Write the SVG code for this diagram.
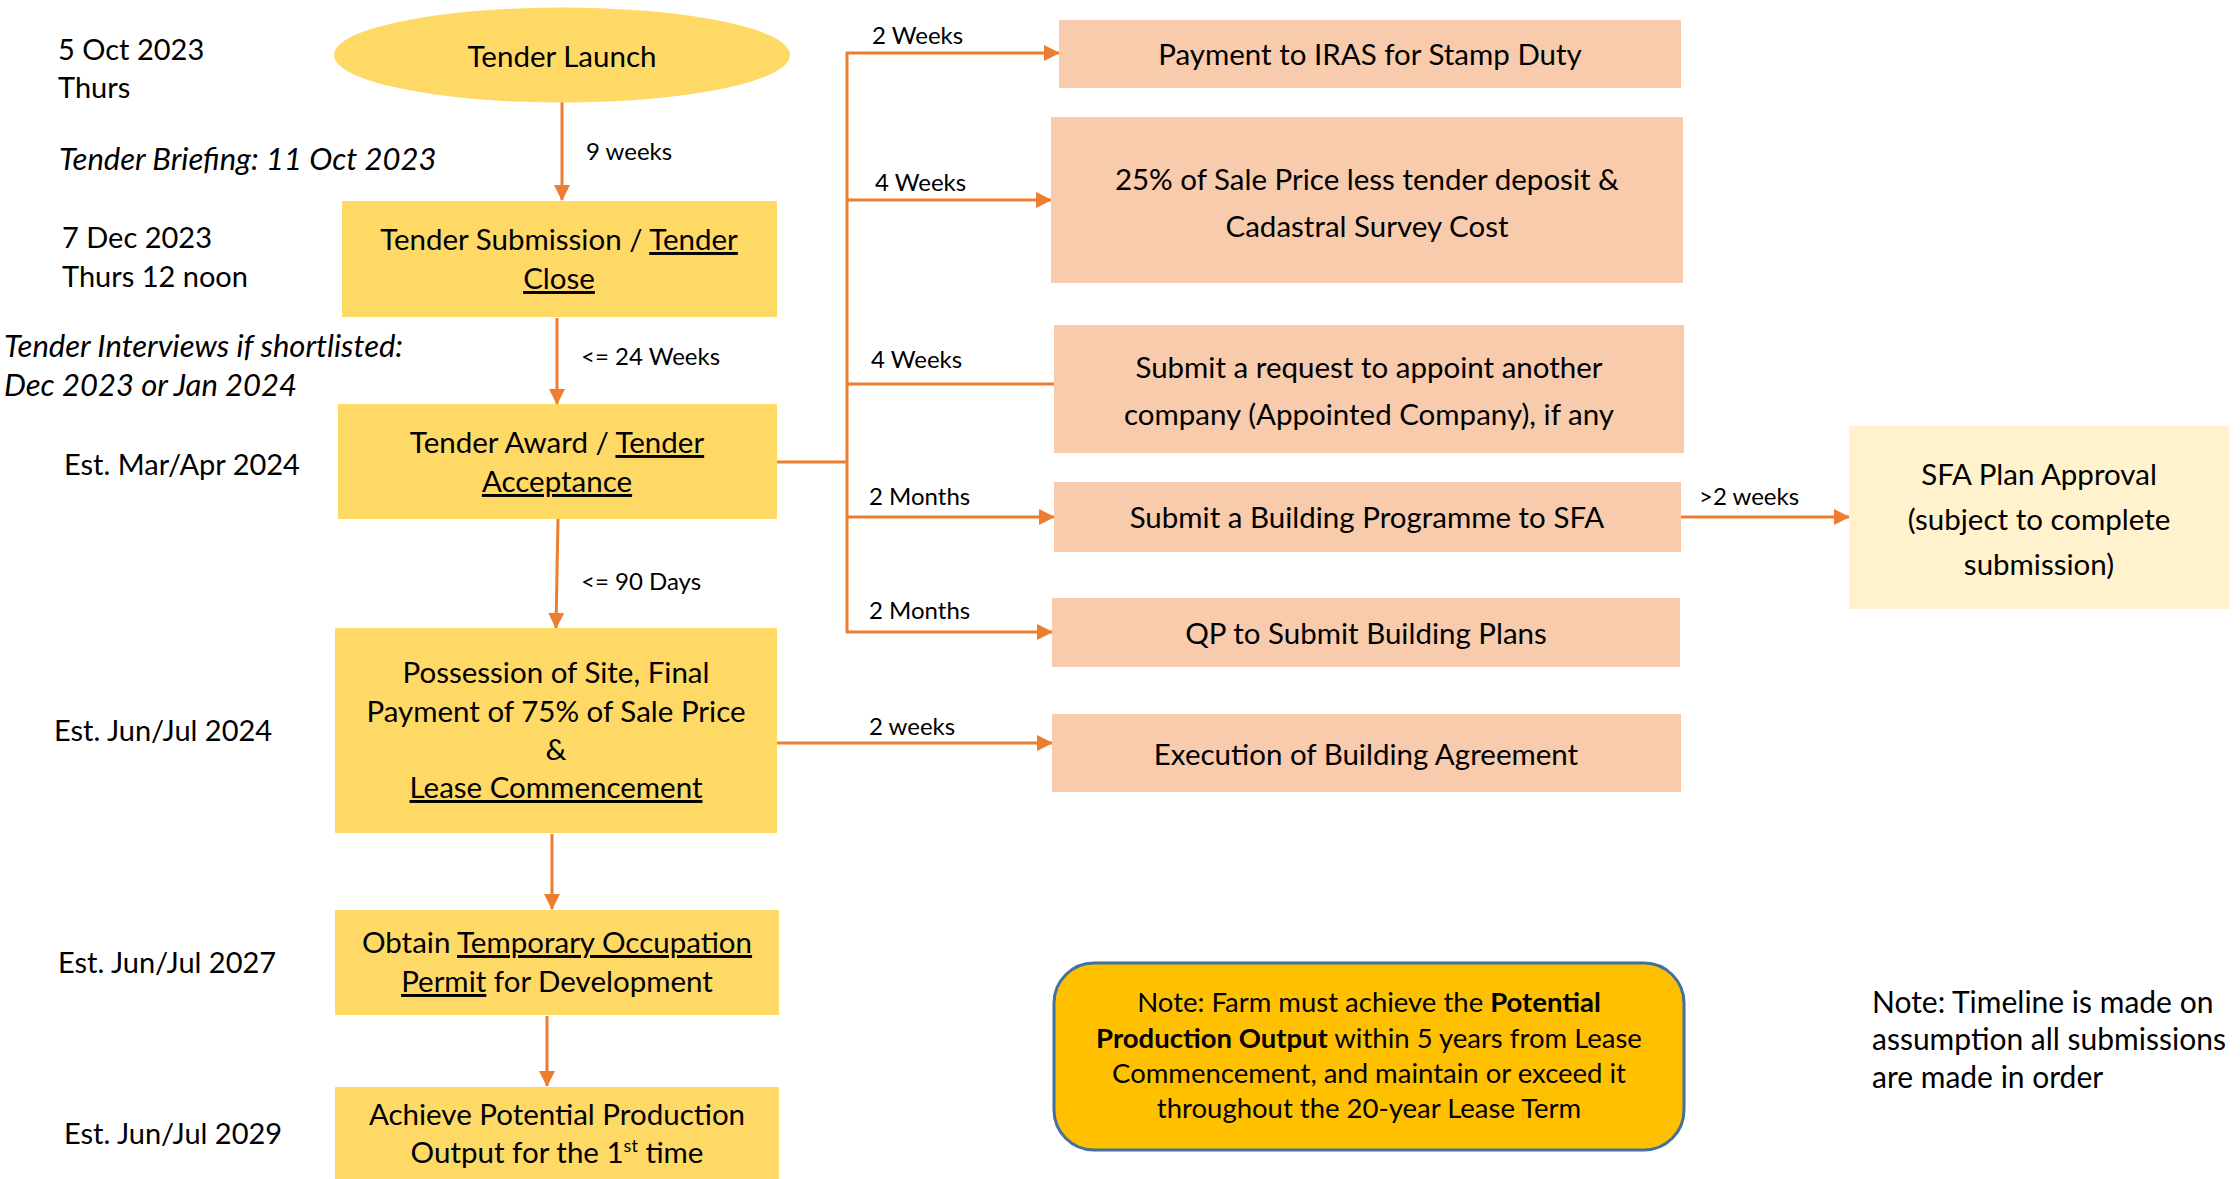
<svg xmlns="http://www.w3.org/2000/svg" width="2240" height="1179" viewBox="0 0 2240 1179">
<style>
text{font-family:Lato,"Open Sans","Liberation Sans",sans-serif;fill:#000}
.lbl{font-size:29px}
.it{font-style:italic;font-size:31px}
.nd{font-size:29.5px;text-anchor:middle}
.cl{font-size:24px}
.nt{font-size:27.5px;text-anchor:middle}
.rn{font-size:30px}
.u{text-decoration:underline}
.y{fill:#FFD966}
.p{fill:#F8CBAD}
.lt{fill:#FFF2CC}
.ln{stroke:#ED7D31;stroke-width:3;fill:none}
</style>
<defs>
<marker id="ah" markerUnits="userSpaceOnUse" markerWidth="16" markerHeight="16" refX="15" refY="8" orient="auto">
<path d="M0,0 L16,8 L0,16 z" fill="#ED7D31"/>
</marker>
</defs>
<rect width="2240" height="1179" fill="#fff"/>

<g id="dates">
<text class="lbl" x="58" y="60">5 Oct 2023</text>
<text class="lbl" x="58" y="98">Thurs</text>
<text class="lbl it" x="59" y="170">Tender Briefing: 11 Oct 2023</text>
<text class="lbl" x="62" y="248">7 Dec 2023</text>
<text class="lbl" x="62" y="287">Thurs 12 noon</text>
<text class="lbl it" x="4" y="357">Tender Interviews if shortlisted:</text>
<text class="lbl it" x="4" y="396">Dec 2023 or Jan 2024</text>
<text class="lbl" x="64" y="475">Est. Mar/Apr 2024</text>
<text class="lbl" x="54" y="741">Est. Jun/Jul 2024</text>
<text class="lbl" x="58" y="973">Est. Jun/Jul 2027</text>
<text class="lbl" x="64" y="1144">Est. Jun/Jul 2029</text>
</g>

<g id="connectors">
<line class="ln" x1="562" y1="102" x2="562" y2="200" marker-end="url(#ah)"/>
<line class="ln" x1="557" y1="318" x2="557" y2="404" marker-end="url(#ah)"/>
<line class="ln" x1="558" y1="519" x2="556" y2="628" marker-end="url(#ah)"/>
<line class="ln" x1="552" y1="834" x2="552" y2="909" marker-end="url(#ah)"/>
<line class="ln" x1="547" y1="1016" x2="547" y2="1086" marker-end="url(#ah)"/>
<polyline class="ln" points="777,462 847,462"/>
<line class="ln" x1="847" y1="52" x2="847" y2="633"/>
<line class="ln" x1="846" y1="53" x2="1059" y2="53" marker-end="url(#ah)"/>
<line class="ln" x1="846" y1="200" x2="1051" y2="200" marker-end="url(#ah)"/>
<line class="ln" x1="846" y1="384" x2="1054" y2="384"/>
<line class="ln" x1="846" y1="517" x2="1054" y2="517" marker-end="url(#ah)"/>
<line class="ln" x1="846" y1="632" x2="1052" y2="632" marker-end="url(#ah)"/>
<line class="ln" x1="777" y1="743" x2="1052" y2="743" marker-end="url(#ah)"/>
<line class="ln" x1="1681" y1="517" x2="1849" y2="517" marker-end="url(#ah)"/>
<text class="cl" x="586" y="160">9 weeks</text>
<text class="cl" x="581" y="365">&lt;= 24 Weeks</text>
<text class="cl" x="581" y="590">&lt;= 90 Days</text>
<text class="cl" x="872" y="44">2 Weeks</text>
<text class="cl" x="875" y="191">4 Weeks</text>
<text class="cl" x="871" y="368">4 Weeks</text>
<text class="cl" x="869" y="505">2 Months</text>
<text class="cl" x="869" y="619">2 Months</text>
<text class="cl" x="869" y="735">2 weeks</text>
<text class="cl" x="1699" y="505">&gt;2 weeks</text>
</g>

<g id="tender-launch">
<ellipse class="y" cx="562" cy="55" rx="228" ry="47.5"/>
<text class="nd" x="562" y="67">Tender Launch</text>
</g>
<g id="tender-submission">
<rect class="y" x="342" y="201" width="435" height="116"/>
<text class="nd" x="559" y="250">Tender Submission / <tspan class="u">Tender</tspan></text>
<text class="nd" x="559" y="289"><tspan class="u">Close</tspan></text>
</g>
<g id="tender-award">
<rect class="y" x="338" y="404" width="439" height="115"/>
<text class="nd" x="557" y="453">Tender Award / <tspan class="u">Tender</tspan></text>
<text class="nd" x="557" y="492"><tspan class="u">Acceptance</tspan></text>
</g>
<g id="possession">
<rect class="y" x="335" y="628" width="442" height="205"/>
<text class="nd" x="556" y="683">Possession of Site, Final</text>
<text class="nd" x="556" y="722">Payment of 75% of Sale Price</text>
<text class="nd" x="556" y="760">&amp;</text>
<text class="nd" x="556" y="798"><tspan class="u">Lease Commencement</tspan></text>
</g>
<g id="top-permit">
<rect class="y" x="335" y="910" width="444" height="105"/>
<text class="nd" x="557" y="953">Obtain <tspan class="u">Temporary Occupation</tspan></text>
<text class="nd" x="557" y="992"><tspan class="u">Permit</tspan> for Development</text>
</g>
<g id="achieve">
<rect class="y" x="335" y="1087" width="444" height="100"/>
<text class="nd" x="557" y="1125">Achieve Potential Production</text>
<text class="nd" x="557" y="1163">Output for the 1<tspan dy="-11" font-size="18">st</tspan><tspan dy="11"> time</tspan></text>
</g>

<g id="payment-iras">
<rect class="p" x="1059" y="20" width="622" height="68"/>
<text class="nd" x="1370" y="65">Payment to IRAS for Stamp Duty</text>
</g>
<g id="sale-price">
<rect class="p" x="1051" y="117" width="632" height="166"/>
<text class="nd" x="1367" y="190">25% of Sale Price less tender deposit &amp;</text>
<text class="nd" x="1367" y="237">Cadastral Survey Cost</text>
</g>
<g id="appoint-request">
<rect class="p" x="1054" y="325" width="630" height="128"/>
<text class="nd" x="1369" y="378">Submit a request to appoint another</text>
<text class="nd" x="1369" y="425">company (Appointed Company), if any</text>
</g>
<g id="building-programme">
<rect class="p" x="1054" y="482" width="627" height="70"/>
<text class="nd" x="1367" y="528">Submit a Building Programme to SFA</text>
</g>
<g id="building-plans">
<rect class="p" x="1052" y="598" width="628" height="69"/>
<text class="nd" x="1366" y="644">QP to Submit Building Plans</text>
</g>
<g id="building-agreement">
<rect class="p" x="1052" y="714" width="629" height="78"/>
<text class="nd" x="1366" y="765">Execution of Building Agreement</text>
</g>
<g id="sfa-approval">
<rect class="lt" x="1849" y="426" width="380" height="183"/>
<text class="nd" x="2039" y="485">SFA Plan Approval</text>
<text class="nd" x="2039" y="530">(subject to complete</text>
<text class="nd" x="2039" y="575">submission)</text>
</g>
<g id="note-box">
<rect x="1054" y="963" width="630" height="187" rx="40" ry="40" fill="#FFC000" stroke="#41719C" stroke-width="3"/>
<text class="nt" x="1369" y="1012">Note: Farm must achieve the <tspan font-weight="bold">Potential</tspan></text>
<text class="nt" x="1369" y="1048"><tspan font-weight="bold">Production Output</tspan> within 5 years from Lease</text>
<text class="nt" x="1369" y="1083">Commencement, and maintain or exceed it</text>
<text class="nt" x="1369" y="1118">throughout the 20-year Lease Term</text>
</g>
<g id="note-timeline">
<text class="rn" x="1872" y="1013">Note: Timeline is made on</text>
<text class="rn" x="1872" y="1050">assumption all submissions</text>
<text class="rn" x="1872" y="1088">are made in order</text>
</g>
</svg>
